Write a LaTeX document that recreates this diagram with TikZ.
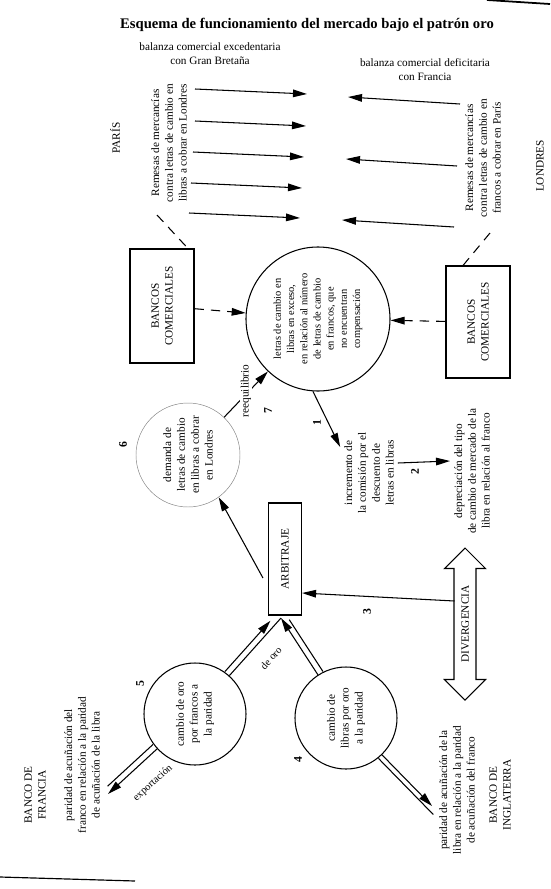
\documentclass[tikz,border=0pt]{standalone}
\usepackage{fontspec}
\setmainfont{Liberation Serif}
\usepackage{tikz}
\usetikzlibrary{shapes.geometric, shapes.arrows, arrows.meta, calc}
\tikzstyle{whbox} = [rectangle, draw=black, line width=0.9pt, rotate=90, align=center]
\tikzstyle{whcirc} = [circle, draw=black, line width=0.9pt, rotate=90, align=center, inner sep=0pt]
\tikzstyle{vtext} = [rotate=90, align=center]
\tikzstyle{num} = [rotate=90, font=\fontsize{10}{12}\selectfont\bfseries]
\tikzstyle{plain} = [line width=0.9pt]
\tikzstyle{arr} = [line width=0.9pt, -{Triangle[length=12pt, width=6.5pt]}]
\tikzstyle{dline} = [line width=0.9pt, dash pattern=on 8pt off 6pt]
\tikzstyle{darr} = [dline, -{Triangle[length=12pt, width=6.5pt]}]

\begin{document}
\begin{tikzpicture}[x=0.03cm, y=-0.03cm, font=\fontsize{9.6}{11.8}\selectfont]
\useasboundingbox (0,0) rectangle (550,889);

% titulo y balanzas
\node (title) at (307,25) {\fontsize{12.5}{15}\selectfont\bfseries Esquema de funcionamiento del mercado bajo el patrón oro};
\node (balfr) [align=center] at (210,54) {balanza comercial excedentaria\\con Gran Bretaña};
\node (balgb) [align=center] at (425,70) {balanza comercial deficitaria\\con Francia};

% plazas
\node (paris) [vtext] at (115,138) {PARÍS};
\node (londres) [vtext] at (540,166) {LONDRES};
\node (remfr) [vtext] at (169,143) {Remesas de mercancías\\contra letras de cambio en\\libras a cobrar en Londres};
\node (remgb) [vtext] at (483,158) {Remesas de mercancías\\contra letras de cambio en\\francos a cobrar en París};

% remesas
\foreach \ya/\xa/\xb [count=\i] in {89/195/307, 121/195/306, 152/193/304, 183/191/302, 213/189/300}{
  \coordinate (ls\i) at (\xa,\ya);
  \coordinate (le\i) at (\xb,{\ya+5});
  \draw [arr] (ls\i) -- (le\i);
}
\foreach \ya/\xa/\xb [count=\i] in {104/460/348, 166/457/346, 227/454/342}{
  \coordinate (rs\i) at (\xa,\ya);
  \coordinate (re\i) at (\xb,{\ya-7});
  \draw [arr] (rs\i) -- (re\i);
}

% bancos comerciales
\node (bcfr) [whbox, minimum width=3.42cm, minimum height=1.92cm] at (162,306) {BANCOS\\COMERCIALES};
\node (bcgb) [whbox, minimum width=3.36cm, minimum height=1.92cm] at (478,322) {BANCOS\\COMERCIALES};
\node (exceso) [whcirc, minimum size=4.32cm, font=\fontsize{8.9}{11.3}\selectfont] at (318,319) {letras de cambio en\\libras en exceso,\\en relación al número\\de letras de cambio\\en francos, que\\no encuentran\\compensación};

\coordinate (dfr) at (157,215);
\coordinate (dgb) at (490,233);
\draw [dline] (dfr) -- ($(bcfr.east)+(26,0)$);
\draw [dline] (dgb) -- ($(bcgb.east)+(-15,0)$);
\draw [darr] (bcfr) -- (exceso);
\draw [darr] (bcgb) -- (exceso);

% demanda y reequilibrio
\node (demanda) [whcirc, draw=gray, line width=0.4pt, minimum size=3.12cm] at (188,455) {demanda de\\letras de cambio\\en libras a cobrar\\en Londres};
\node [num] at (123,445) {6};
\draw [arr] (demanda) -- node [vtext, fill=white, inner sep=1pt, xshift=3pt] {reequilibrio} (exceso);
\node [num] at (268,411) {7};

% consecuencias
\node (incr) [vtext] at (369,473) {incremento de\\la comisión por el\\descuento de\\letras en libras};
\node (depr) [vtext] at (472,471) {depreciación del tipo\\de cambio de mercado de la\\libra en relación al franco};
\draw [arr] (exceso.176) -- ($(incr.north)+(0,-26)$);
\node [num] at (317,423) {1};
\draw [arr] ([yshift=0.3cm]incr.south) -- ([yshift=0.3cm]depr.north);
\node [num] at (415,472) {2};

% arbitraje
\node (arbitraje) [whbox, minimum width=3.36cm, minimum height=0.99cm] at (285,559) {ARBITRAJE};
\draw [arr] ($(arbitraje.north)+(-5,19)$) -- (demanda.216);
\node (diverg) [double arrow, draw=black, line width=0.9pt, rotate=90, minimum height=4.56cm, double arrow head extend=0.285cm, text height=6.5pt, text depth=0pt, inner ysep=5.7pt, inner xsep=2pt] at (465,624) {DIVERGENCIA};
\draw [arr] ($(diverg.center)+(-10.5,-23)$) -- ($(arbitraje.south)+(0,34)$);
\node [num] at (367,612) {3};

% cambio de oro
\node (oroFr) [whcirc, minimum size=3.06cm] at (195,714) {cambio de oro\\por francos a\\la paridad};
\node (oroGb) [whcirc, minimum size=3.06cm] at (346,718) {cambio de\\libras por oro\\a la paridad};
\node [num] at (140,684) {5};
\node [num] at (298,760) {4};

\coordinate (apex) at (281,618);
\coordinate (expo) at (108,794);
\coordinate (ingl) at (432,806);
\draw [plain] (oroFr) -- (apex);
\draw [arr, shorten >=0.27cm, transform canvas={xshift=-0.135cm, yshift=0.12cm}] (oroFr) -- (apex);
\draw [arr] (oroGb) -- (apex);
\draw [plain, shorten >=0.18cm, transform canvas={xshift=0.15cm, yshift=0.1cm}] (oroGb) -- (apex);
\draw [arr] (oroFr) -- (expo);
\draw [plain, shorten >=0.15cm, transform canvas={xshift=-0.123cm, yshift=0.132cm}] (oroFr) -- (expo);
\draw [arr] (oroGb) -- (ingl);
\draw [plain, shorten >=-0.21cm, transform canvas={xshift=-0.108cm, yshift=-0.105cm}] (oroGb) -- (ingl);
\node (deoro) [rotate=48, font=\fontsize{8.8}{10}\selectfont] at (271,658) {de oro};
\node (export) [rotate=42, font=\fontsize{8.8}{10}\selectfont] at (153,783) {exportación};

% bancos centrales
\node (bfr) [vtext] at (35,795) {BANCO DE\\FRANCIA};
\node (parfr) [vtext] at (82,765) {paridad de acuñación del\\franco en relación a la paridad\\de acuñación de la libra};
\node (pargb) [vtext] at (457,790) {paridad de acuñación de la\\libra en relación a la paridad\\de acuñación del franco};
\node (bgb) [vtext] at (500,795) {BANCO DE\\INGLATERRA};

% bordes de la pagina
\draw [line width=1.5pt] (487,0) -- (550,4);
\draw [line width=1pt] (0,877) -- (135,881);
\end{tikzpicture}
\end{document}
